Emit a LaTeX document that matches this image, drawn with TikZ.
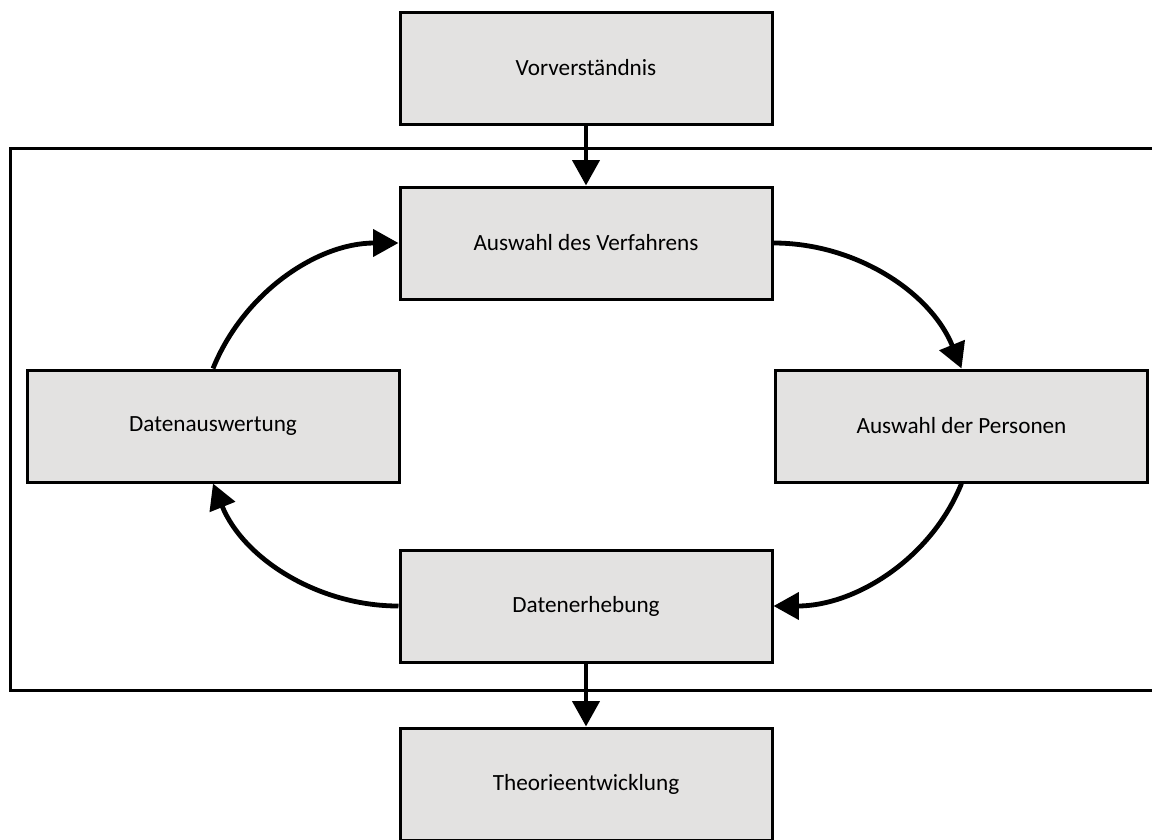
\documentclass[tikz,border=0pt]{standalone}
\usepackage{fontspec}
\setmainfont{Carlito}
\usetikzlibrary{arrows.meta}
\definecolor{boxgray}{RGB}{227,226,225}
\begin{document}
\begin{tikzpicture}[x=0.75pt,y=-0.75pt]
        \tikzset{stage/.style={draw,fill=boxgray,line width=2.25pt,
                minimum width=279pt,minimum height=84pt,
                font=\fontsize{17.4}{20}\selectfont},
            flow/.style={line width=3.6pt,
                -{Triangle[length=19pt,width=20pt]}},
            cycleflow/.style={flow,looseness=0.93}}
        \useasboundingbox (0,0) rectangle (1152,839);
        \draw[line width=2.25pt] (10,148) rectangle (1170,690);
        \node[stage] (vor) at (586,68) {Vorverständnis};
        \node[stage] (verf) at (586,243) {Auswahl des Verfahrens};
        \node[stage] (ausw) at (213,426) {Datenauswertung};
        \node[stage] (pers) at (961.5,426) {Auswahl der Personen};
        \node[stage] (erheb) at (586,606) {Datenerhebung};
        \node[stage] (theo) at (586,784) {Theorieentwicklung};
        \draw[flow] (vor) -- (verf);
        \draw[flow] (erheb) -- (theo);
        \draw[cycleflow] (verf.east) to[out=0,in=112] (pers.north);
        \draw[cycleflow] (pers.south) to[out=-112,in=0] (erheb.east);
        \draw[cycleflow] (erheb.west) to[out=180,in=-68] (ausw.south);
        \draw[cycleflow] (ausw.north) to[out=68,in=180] (verf.west);
    \end{tikzpicture}
\end{document}
